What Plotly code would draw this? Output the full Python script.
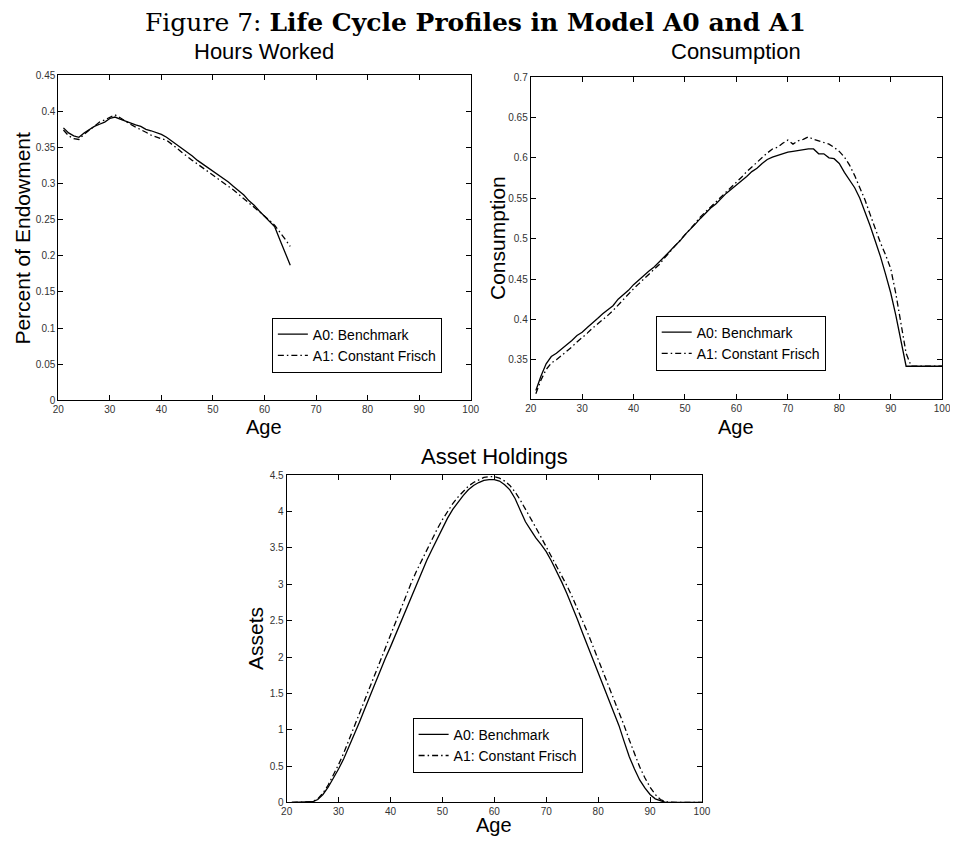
import plotly.graph_objects as go

# ages
age_work = list(range(21, 66))
age_life = list(range(21, 101))

# hours worked (share of endowment)
hours_a0 = [0.377, 0.370, 0.366, 0.364, 0.370, 0.375, 0.379, 0.382, 0.385, 0.390,
            0.392, 0.389, 0.386, 0.383, 0.381, 0.379, 0.375, 0.373, 0.371, 0.368,
            0.364, 0.359, 0.354, 0.348, 0.343, 0.338, 0.332, 0.327, 0.323, 0.318,
            0.313, 0.308, 0.302, 0.296, 0.290, 0.284, 0.276, 0.270, 0.262, 0.255,
            0.248, 0.240, 0.222, 0.205, 0.187]
hours_a1 = [0.374, 0.366, 0.362, 0.361, 0.368, 0.374, 0.380, 0.385, 0.388, 0.392,
            0.395, 0.391, 0.386, 0.382, 0.378, 0.375, 0.371, 0.367, 0.364, 0.362,
            0.360, 0.355, 0.349, 0.343, 0.337, 0.332, 0.327, 0.322, 0.317, 0.312,
            0.307, 0.302, 0.296, 0.291, 0.285, 0.279, 0.274, 0.268, 0.262, 0.256,
            0.249, 0.242, 0.233, 0.223, 0.213]

# consumption
cons_a0 = [0.312, 0.330, 0.345, 0.354, 0.358, 0.363, 0.368, 0.374, 0.380, 0.384,
           0.390, 0.395, 0.401, 0.407, 0.412, 0.417, 0.425, 0.430, 0.436, 0.443,
           0.449, 0.454, 0.460, 0.465, 0.471, 0.477, 0.484, 0.491, 0.497, 0.505,
           0.511, 0.518, 0.525, 0.532, 0.538, 0.543, 0.550, 0.556, 0.561, 0.566,
           0.571, 0.577, 0.583, 0.587, 0.593, 0.598, 0.601, 0.603, 0.605, 0.607,
           0.608, 0.609, 0.610, 0.611, 0.611, 0.605, 0.605, 0.600, 0.599, 0.593,
           0.582, 0.572, 0.563, 0.550, 0.534, 0.516, 0.497, 0.478, 0.456, 0.433,
           0.405, 0.375, 0.342, 0.342, 0.342, 0.342, 0.342, 0.342, 0.342, 0.342]
cons_a1 = [0.308, 0.325, 0.338, 0.346, 0.350, 0.355, 0.360, 0.366, 0.372, 0.377,
           0.383, 0.389, 0.394, 0.399, 0.405, 0.411, 0.418, 0.425, 0.432, 0.438,
           0.444, 0.450, 0.456, 0.462, 0.468, 0.476, 0.483, 0.490, 0.497, 0.505,
           0.512, 0.519, 0.527, 0.533, 0.539, 0.546, 0.552, 0.558, 0.564, 0.570,
           0.576, 0.583, 0.589, 0.594, 0.600, 0.606, 0.611, 0.613, 0.618, 0.622,
           0.617, 0.621, 0.623, 0.626, 0.623, 0.621, 0.619, 0.617, 0.613, 0.608,
           0.601, 0.591, 0.578, 0.563, 0.548, 0.530, 0.512, 0.495, 0.480, 0.463,
           0.432, 0.395, 0.358, 0.342, 0.342, 0.342, 0.342, 0.342, 0.342, 0.342]

# asset holdings
assets_a0 = [0.00, 0.00, 0.00, 0.00, 0.01, 0.04, 0.11, 0.21, 0.33, 0.46,
             0.60, 0.76, 0.93, 1.10, 1.28, 1.46, 1.64, 1.82, 1.98, 2.14,
             2.31, 2.48, 2.66, 2.84, 3.01, 3.17, 3.33, 3.48, 3.63, 3.78,
             3.91, 4.03, 4.13, 4.22, 4.30, 4.36, 4.40, 4.43, 4.44, 4.44,
             4.42, 4.37, 4.30, 4.18, 4.02, 3.86, 3.75, 3.64, 3.55, 3.45,
             3.32, 3.18, 3.03, 2.87, 2.70, 2.52, 2.33, 2.15, 1.97, 1.79,
             1.61, 1.44, 1.26, 1.06, 0.84, 0.63, 0.46, 0.31, 0.20, 0.11,
             0.05, 0.02, 0.00, 0.00, 0.00, 0.00, 0.00, 0.00, 0.00, 0.00]
assets_a1 = [0.00, 0.00, 0.00, 0.00, 0.01, 0.05, 0.13, 0.24, 0.37, 0.52,
             0.68, 0.86, 1.04, 1.22, 1.40, 1.59, 1.77, 1.95, 2.13, 2.31,
             2.49, 2.67, 2.85, 3.02, 3.18, 3.33, 3.48, 3.62, 3.76, 3.89,
             4.01, 4.11, 4.20, 4.28, 4.35, 4.40, 4.44, 4.47, 4.48, 4.48,
             4.46, 4.42, 4.36, 4.27, 4.16, 4.04, 3.91, 3.78, 3.65, 3.52,
             3.39, 3.26, 3.12, 2.98, 2.83, 2.67, 2.50, 2.33, 2.15, 1.97,
             1.79, 1.61, 1.43, 1.25, 1.06, 0.86, 0.67, 0.49, 0.34, 0.21,
             0.11, 0.04, 0.01, 0.00, 0.00, 0.00, 0.00, 0.00, 0.00, 0.00]

names = ['A0: Benchmark', 'A1: Constant Frisch']
x_ticks = [20, 30, 40, 50, 60, 70, 80, 90, 100]

# the page body has an 8px margin, so the figure starts 8px in;
# positions below are given in window pixels and shifted back
OFF = 8
W, H = 958 - OFF, 841 - OFF
FONT = 'Liberation Sans, Arial, sans-serif'
DASHDOT = '6px,3px,1.5px,3px'

fig = go.Figure()

panels = [
    (age_work, hours_a0, hours_a1, 'x', 'y', 'legend'),
    (age_life, cons_a0, cons_a1, 'x2', 'y2', 'legend2'),
    (age_life, assets_a0, assets_a1, 'x3', 'y3', 'legend3'),
]
for ages, a0, a1, xa, ya, lg in panels:
    fig.add_trace(go.Scatter(x=ages, y=a0, mode='lines', name=names[0],
                             line=dict(color='black', width=1.3),
                             xaxis=xa, yaxis=ya, legend=lg))
    fig.add_trace(go.Scatter(x=ages, y=a1, mode='lines', name=names[1],
                             line=dict(color='black', width=1.3, dash=DASHDOT),
                             xaxis=xa, yaxis=ya, legend=lg))


def px_x(p):
    return (p - OFF) / W


def px_y(p):
    return 1 - (p - OFF) / H


def ax(dom, anchor, **kw):
    d = dict(domain=dom, anchor=anchor, showline=True, linecolor='black', linewidth=1,
             mirror='ticks', ticks='inside', ticklen=5, tickwidth=1, tickcolor='black',
             showgrid=False, zeroline=False,
             tickfont=dict(family=FONT, size=10, color='#333'))
    d.update(kw)
    return d


def leg(x, y):
    return dict(x=px_x(x), y=px_y(y), xanchor='left', yanchor='top',
                bordercolor='black', borderwidth=1, bgcolor='white',
                font=dict(family=FONT, size=14), tracegroupgap=0)


fig.update_layout(
    width=W, height=H,
    margin=dict(l=0, r=0, t=0, b=0),
    paper_bgcolor='white', plot_bgcolor='white',
    font=dict(family=FONT, color='black'),
    showlegend=True,
    xaxis=ax([px_x(53), px_x(472)], 'y', range=[20, 100], tickvals=x_ticks),
    yaxis=ax([px_y(400), px_y(70)], 'x', range=[0, 0.45],
             tickvals=[0, 0.05, 0.1, 0.15, 0.2, 0.25, 0.3, 0.35, 0.4, 0.45]),
    xaxis2=ax([px_x(533), px_x(951)], 'y2', range=[20, 100], tickvals=x_ticks),
    yaxis2=ax([px_y(399), px_y(72)], 'x2', range=[0.301, 0.7],
              tickvals=[0.35, 0.4, 0.45, 0.5, 0.55, 0.6, 0.65, 0.7]),
    xaxis3=ax([px_x(285), px_x(707)], 'y3', range=[20, 100], tickvals=x_ticks),
    yaxis3=ax([px_y(808), px_y(476)], 'x3', range=[0, 4.5],
              tickvals=[0, 0.5, 1, 1.5, 2, 2.5, 3, 3.5, 4, 4.5]),
    legend=leg(270, 316),
    legend2=leg(660, 314),
    legend3=leg(413, 722),
)

texts = [
    ('Figure 7: <b>Life Cycle Profiles in Model A0 and A1</b>', 477, 17, 0, 25,
     'DejaVu Serif, serif'),
    ('Hours Worked', 262, 46, 0, 22, FONT),
    ('Consumption', 742, 46, 0, 22, FONT),
    ('Asset Holdings', 496, 457, 0, 22, FONT),
    ('Age', 262, 427, 0, 20, FONT),
    ('Age', 742, 427, 0, 20, FONT),
    ('Age', 496, 831, 0, 20, FONT),
    ('Percent of Endowment', 17, 235, -90, 21, FONT),
    ('Consumption', 499, 235, -90, 21, FONT),
    ('Assets', 254, 642, -90, 21, FONT),
]
for t, x, y, ang, size, fam in texts:
    fig.add_annotation(text=t, x=px_x(x), y=px_y(y), xref='paper', yref='paper',
                       xanchor='center', yanchor='middle', showarrow=False,
                       textangle=ang, font=dict(family=fam, size=size, color='black'))

fig.write_html("out.html")
